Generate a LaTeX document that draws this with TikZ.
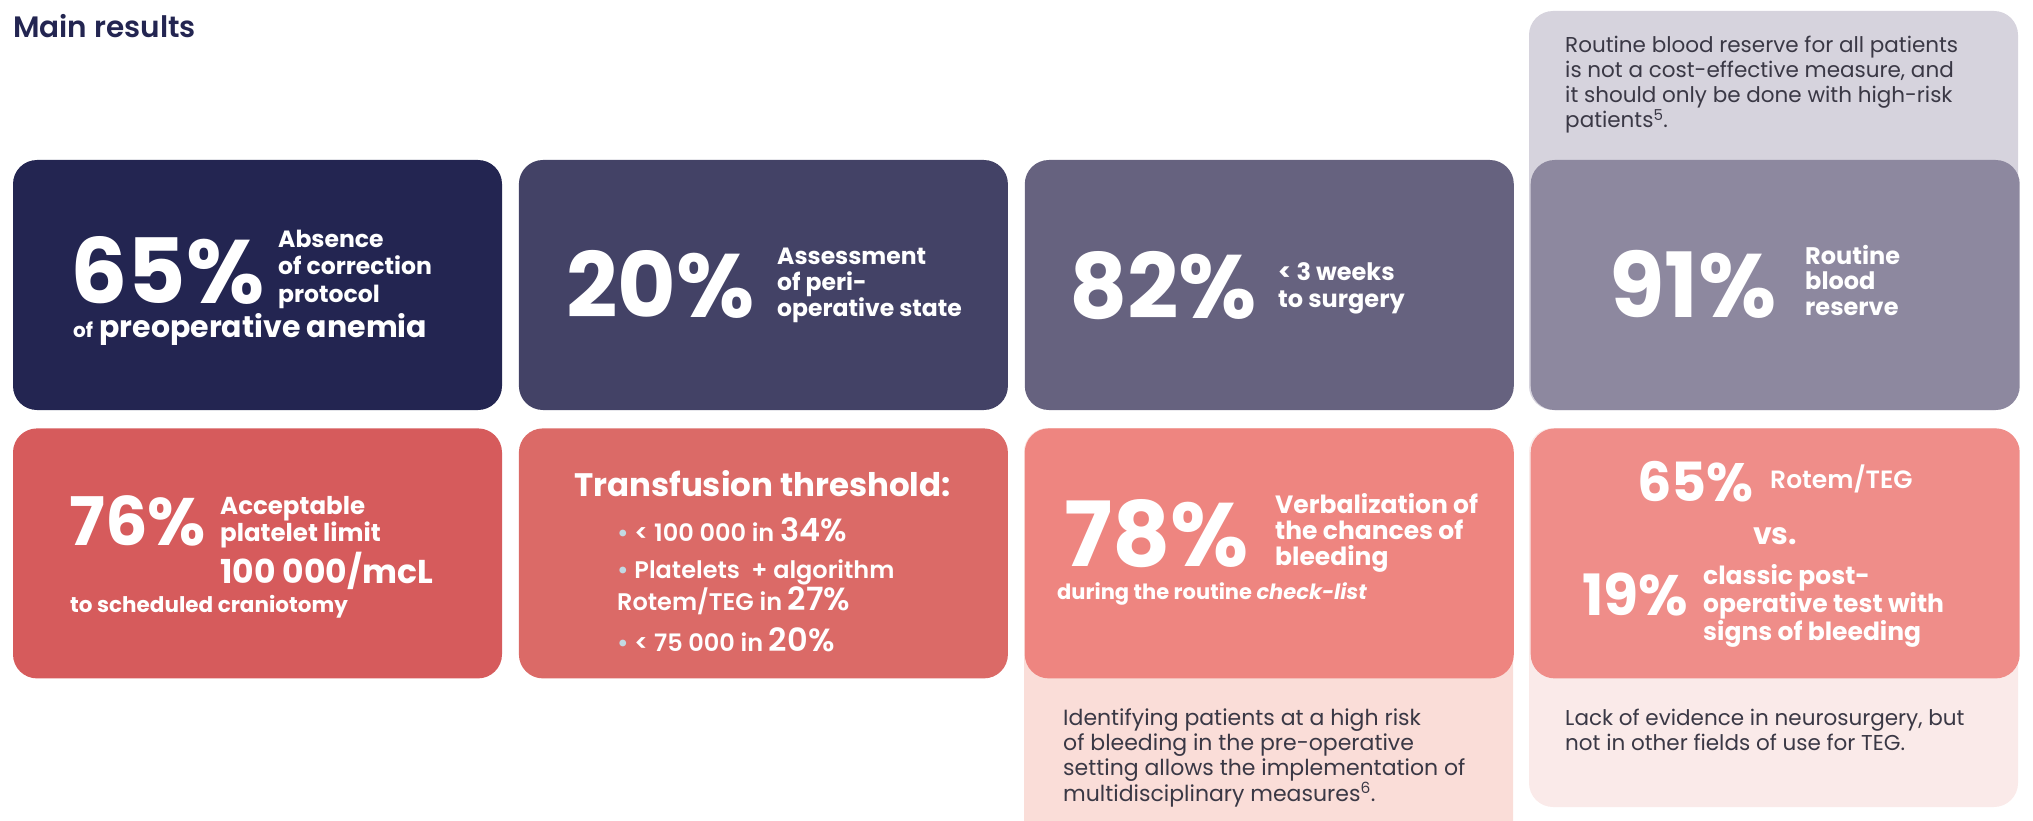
\documentclass[tikz,border=0pt]{standalone}
\usepackage{fontspec}
\setmainfont{Poppins}
\newfontfamily\semi{Poppins SemiBold}
\usetikzlibrary{positioning}
\definecolor{cnavy}{HTML}{232551}
\definecolor{cslate}{HTML}{434266}
\definecolor{cdusk}{HTML}{66627F}
\definecolor{cmauve}{HTML}{8D889F}
\definecolor{cmist}{HTML}{D6D3DD}
\definecolor{cred}{HTML}{D65B5C}
\definecolor{crose}{HTML}{DB6A67}
\definecolor{csalmon}{HTML}{EE8580}
\definecolor{cpink}{HTML}{EF8D89}
\definecolor{cblush}{HTML}{FADDD8}
\definecolor{cshell}{HTML}{FAEAE9}
\definecolor{ink}{HTML}{3A3845}
\definecolor{dotblue}{HTML}{C2D9E3}
\newcommand{\sz}[2]{\fontsize{#1}{#2}\selectfont}

\begin{document}
\begin{tikzpicture}[x=1pt, y=1pt, node distance=18pt and 16.5pt,
    card/.style = {rounded corners=24pt, minimum width=489pt, minimum height=250pt, inner sep=0pt},
    panel/.style = {rounded corners=24pt, minimum width=489pt, inner sep=0pt},
    big/.style = {font=\bfseries\sz{90}{90}, text=white, inner sep=0pt, text depth=0pt, anchor=base west},
    lbl/.style = {font=\bfseries\sz{24}{27}, text=white, align=left, inner sep=0pt, text depth=0pt, anchor=base west},
    note/.style = {font=\sz{21.5}{25}, text=ink, align=left, inner sep=0pt, anchor=base west}]
    \useasboundingbox (0,0) rectangle (2033,-821);
    \node[anchor=base west, inner sep=0pt, text=cnavy, font=\semi\sz{29.5}{29.5}] (title) at (13,-38) {Main results};
    \node[panel, fill=cmist, minimum height=399pt] (n4) at (1773.5,-210.5) {};
    \node[panel, fill=cblush, minimum height=422pt] (n7) at (1268.5,-639) {};
    \node[panel, fill=cshell, minimum height=379pt] (n8) at (1773.5,-617.5) {};
    \node[card, fill=cnavy] (c1) at (257.5,-285) {};
    \node[card, fill=cslate] (c2) [right=of c1] {};
    \node[card, fill=cdusk] (c3) [right=of c2] {};
    \node[card, fill=cmauve] (c4) [right=of c3] {};
    \node[card, fill=cred] (c5) [below=of c1] {};
    \node[card, fill=crose] (c6) [right=of c5] {};
    \node[card, fill=csalmon] (c7) [right=of c6] {};
    \node[card, fill=cpink] (c8) [right=of c7] {};
    \node[big] (v1) at (70,-303) {65\%};
    \node[lbl, font=\bfseries\sz{23.5}{27.5}] (l1) at (278,-302) {Absence\\of correction\\protocol};
    \node[lbl, font=\bfseries\sz{30}{30}] (l1b) at (73,-337) {{\sz{20}{20}of} preoperative anemia};
    \node[big] (v2) at (566,-317) {20\%};
    \node[lbl, font=\bfseries\sz{23.5}{26}] (l2) at (777,-316) {Assessment\\of peri-\\operative state};
    \node[big] (v3) at (1069,-318) {82\%};
    \node[lbl] (l3) at (1278,-307) {< 3 weeks\\to surgery};
    \node[big] (v4) at (1609,-317) {91\%};
    \node[lbl, font=\bfseries\sz{24}{25.5}] (l4) at (1805,-315) {Routine\\blood\\reserve};
    \node[note] (t4) at (1565,-128) {Routine blood reserve for all patients\\is not a cost-effective measure, and\\it should only be done with high-risk\\patients\textsuperscript{5}.};
    \node[big, font=\bfseries\sz{67}{67}] (v5) at (69,-545) {76\%};
    \node[lbl, font=\bfseries\sz{24.5}{27}] (l5) at (220,-541) {Acceptable\\platelet limit};
    \node[lbl, font=\bfseries\sz{33}{33}] (l5b) at (220,-583) {100 000/mcL};
    \node[lbl, font=\bfseries\sz{21.5}{21.5}] (l5c) at (70,-612) {to scheduled craniotomy};
    \node[lbl, anchor=base, font=\bfseries\sz{32.5}{32.5}] (h6) at (762.5,-496) {Transfusion threshold:};
    \node[lbl, font=\semi\sz{24}{24}] (b1) at (617,-541) {\textcolor{dotblue}{\textbullet} < 100 000 in {\sz{32}{32}34\%}};
    \node[lbl, font=\semi\sz{24}{29}] (b2) at (617,-610) {\textcolor{dotblue}{\textbullet} Platelets\ \ + algorithm\\Rotem/TEG in {\sz{32}{32}27\%}};
    \node[lbl, font=\semi\sz{24}{24}] (b3) at (617,-651) {\textcolor{dotblue}{\textbullet} < 75 000 in {\sz{32}{32}20\%}};
    \node[big] (v7) at (1064,-566) {78\%};
    \node[lbl, font=\bfseries\sz{25}{26}] (l7) at (1275,-565) {Verbalization of\\the chances of\\bleeding};
    \node[lbl, font=\bfseries\sz{21}{21}] (l7b) at (1057,-599) {during the routine \textit{check-list}};
    \node[note, font=\sz{22}{25.3}] (t7) at (1063,-801) {Identifying patients at a high risk\\of bleeding in the pre-operative\\setting allows the implementation of\\multidisciplinary measures\textsuperscript{6}.};
    \node[big, font=\bfseries\sz{54}{54}] (v8) at (1637,-501) {65\%};
    \node[lbl, font=\semi\sz{25}{25}] (l8) at (1770,-488) {Rotem/TEG};
    \node[lbl, anchor=base, font=\bfseries\sz{30}{30}] (vs) at (1775,-544) {vs.};
    \node[big, font=\bfseries\sz{57}{57}] (w8) at (1582,-615) {19\%};
    \node[lbl, font=\bfseries\sz{25}{26.5}] (l8b) at (1703,-640) {classic post-\\operative test with\\signs of bleeding};
    \node[note] (t8) at (1565,-750) {Lack of evidence in neurosurgery, but\\not in other fields of use for TEG.};
\end{tikzpicture}
\end{document}
